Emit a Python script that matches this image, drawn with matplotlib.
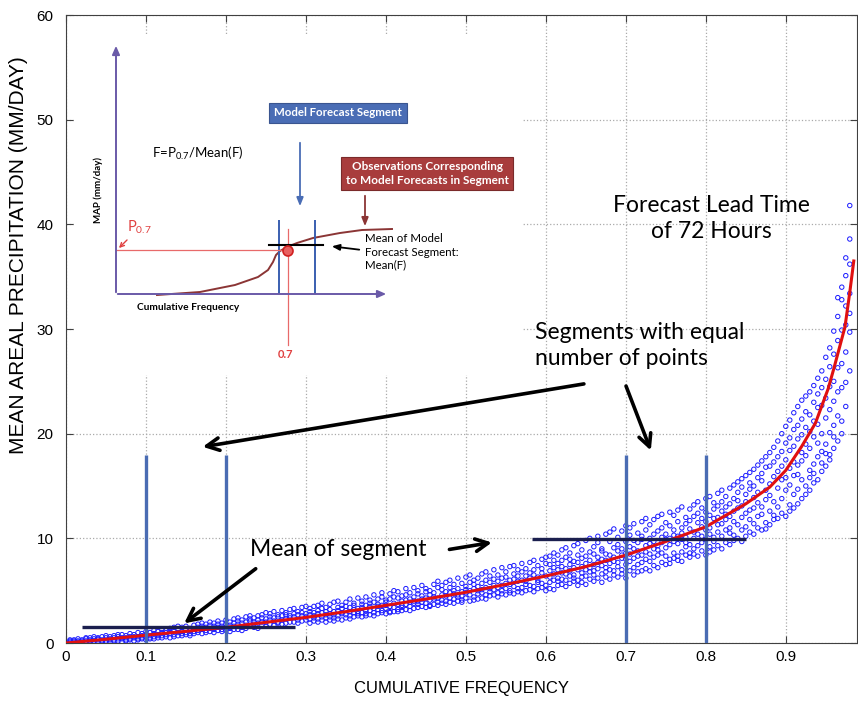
import matplotlib
matplotlib.use('Agg')
import matplotlib.pyplot as plt
from matplotlib import font_manager
from matplotlib.patches import Circle

installed = {f.name for f in font_manager.fontManager.ttflist}
tick_font = 'Liberation Sans Narrow' if 'Liberation Sans Narrow' in installed else 'Liberation Sans'
note_font = 'Lato'

plt.rcParams['font.family'] = ['Liberation Sans', 'DejaVu Sans']
plt.rcParams['mathtext.fontset'] = 'custom'
plt.rcParams['mathtext.rm'] = 'Lato'
plt.rcParams['mathtext.it'] = 'Lato:italic'
plt.rcParams['mathtext.bf'] = 'Lato:bold'

# ---- data ----
x_ticks = [0, 0.1, 0.2, 0.3, 0.4, 0.5, 0.6, 0.7, 0.8, 0.9]
x_ticklabels = ['0', '0.1', '0.2', '0.3', '0.4', '0.5', '0.6', '0.7', '0.8', '0.9']
y_ticks = [0, 10, 20, 30, 40, 50, 60]

# observed MAP (mm/day) against cumulative frequency of the forecast
obs_low = [
    (0.005, [0.0, 0.2, 0.1, 0.3]), (0.010, [0.1, 0.0, 0.3, 0.2]), (0.015, [0.2, 0.4, 0.0, 0.1]),
    (0.020, [0.3, 0.1, 0.2, 0.0]), (0.025, [0.0, 0.4, 0.2, 0.5]), (0.030, [0.3, 0.1, 0.5, 0.2]),
    (0.035, [0.4, 0.0, 0.2, 0.6]), (0.040, [0.1, 0.5, 0.3, 0.4]), (0.045, [0.6, 0.2, 0.3, 0.1]),
    (0.050, [0.2, 0.5, 0.0, 0.7]), (0.055, [0.4, 0.1, 0.6, 0.3]), (0.060, [0.7, 0.3, 0.2, 0.5]),
    (0.065, [0.2, 0.6, 0.4, 0.8]), (0.070, [0.5, 0.1, 0.8, 0.4]), (0.075, [0.3, 0.7, 0.5, 0.2]),
    (0.080, [0.9, 0.4, 0.6, 0.3]), (0.085, [0.5, 0.2, 0.8, 0.6]), (0.090, [0.4, 1.0, 0.6, 0.3]),
    (0.095, [0.7, 0.4, 0.9, 0.5]), (0.100, [0.3, 0.8, 1.1, 0.6]), (0.105, [1.0, 0.5, 0.7, 0.4]),
    (0.110, [0.6, 1.2, 0.4, 0.9]), (0.115, [0.8, 0.5, 1.1, 0.7]), (0.120, [1.3, 0.7, 0.5, 1.0]),
    (0.125, [0.6, 1.0, 1.2, 0.8]), (0.130, [0.9, 0.5, 1.4, 1.1]), (0.135, [1.2, 0.8, 0.6, 1.5]),
    (0.140, [0.7, 1.3, 1.0, 1.6]), (0.145, [1.1, 0.7, 1.5, 0.9]), (0.150, [1.6, 1.0, 0.8, 1.3]),
    (0.155, [0.9, 1.4, 1.2, 0.7]), (0.160, [1.3, 1.7, 0.9, 1.1]), (0.165, [1.0, 1.5, 1.8, 1.2]),
    (0.170, [1.6, 0.9, 1.3, 1.9]), (0.175, [1.2, 1.8, 1.0, 1.5]), (0.180, [1.7, 1.1, 1.4, 2.0]),
    (0.185, [1.0, 1.6, 1.9, 1.3]), (0.190, [1.5, 2.1, 1.2, 1.8]), (0.195, [1.9, 1.3, 1.6, 1.1]),
    (0.200, [1.2, 1.8, 2.2, 1.5]), (0.205, [2.0, 1.4, 1.1, 1.7]), (0.210, [1.6, 2.3, 1.3, 1.9]),
    (0.215, [1.3, 1.8, 2.1, 2.4]), (0.220, [2.2, 1.5, 1.9, 1.2]), (0.225, [1.7, 2.5, 1.4, 2.0]),
    (0.230, [2.3, 1.6, 2.1, 2.6]), (0.235, [1.5, 2.0, 2.4, 1.8]), (0.240, [2.6, 1.9, 1.4, 2.2]),
    (0.245, [2.0, 2.7, 1.7, 2.4]), (0.250, [1.6, 2.3, 2.9, 2.0]), (0.255, [2.5, 1.8, 2.2, 2.8]),
    (0.260, [2.1, 3.0, 1.7, 2.4]), (0.265, [2.7, 2.0, 2.5, 1.9]), (0.270, [1.8, 2.6, 3.1, 2.2]),
    (0.275, [2.9, 2.3, 1.9, 2.7]), (0.280, [2.4, 3.2, 2.0, 2.6]), (0.285, [2.0, 2.8, 3.3, 2.5]),
    (0.290, [3.0, 2.2, 2.7, 1.9]), (0.295, [2.6, 3.4, 2.1, 2.9]), (0.300, [2.2, 2.8, 3.5, 2.5]),
]
obs_mid = [
    (0.305, [1.9, 2.7, 3.3, 2.3, 3.0]), (0.310, [2.9, 2.1, 3.5, 2.6, 2.4]),
    (0.315, [2.3, 3.1, 2.0, 3.6, 2.8]), (0.320, [3.3, 2.5, 2.9, 2.2, 3.8]),
    (0.325, [2.7, 2.0, 3.4, 3.0, 2.4]), (0.330, [2.2, 3.7, 2.8, 2.5, 3.2]),
    (0.335, [3.0, 2.4, 3.9, 2.7, 2.1]), (0.340, [2.6, 3.4, 2.3, 3.1, 4.0]),
    (0.345, [3.6, 2.8, 2.2, 3.3, 2.9]), (0.350, [2.4, 3.1, 3.9, 2.7, 3.5]),
    (0.355, [3.4, 2.6, 3.0, 4.2, 2.3]), (0.360, [2.9, 3.8, 2.5, 3.2, 3.6]),
    (0.365, [2.6, 3.3, 4.3, 3.0, 2.8]), (0.370, [3.7, 2.5, 3.4, 2.9, 4.0]),
    (0.375, [3.1, 4.4, 2.8, 3.6, 2.6]), (0.380, [2.7, 3.5, 3.1, 4.1, 3.8]),
    (0.385, [3.9, 2.9, 4.6, 3.3, 2.6]), (0.390, [3.2, 4.2, 2.8, 3.7, 3.5]),
    (0.395, [2.9, 3.6, 4.4, 3.1, 4.8]), (0.400, [4.1, 3.3, 2.8, 3.9, 3.6]),
    (0.405, [3.5, 4.7, 3.0, 4.2, 2.9]), (0.410, [3.0, 3.8, 4.4, 3.4, 5.0]),
    (0.415, [4.3, 3.2, 3.7, 4.9, 3.0]), (0.420, [3.6, 4.5, 3.1, 4.0, 3.4]),
    (0.425, [3.2, 4.1, 5.2, 3.7, 4.6]), (0.430, [4.8, 3.5, 4.2, 3.1, 3.9]),
    (0.435, [3.8, 4.4, 3.3, 5.3, 4.0]), (0.440, [3.4, 4.7, 4.0, 3.7, 5.0]),
    (0.445, [4.2, 3.5, 5.5, 4.5, 3.9]), (0.450, [4.9, 3.8, 4.3, 3.4, 5.2]),
    (0.455, [3.6, 4.6, 5.0, 4.1, 3.5]), (0.460, [4.4, 5.6, 3.7, 4.8, 4.2]),
    (0.465, [3.9, 4.3, 5.3, 3.6, 5.9]), (0.470, [5.1, 3.8, 4.6, 4.1, 5.5]),
    (0.475, [4.5, 5.8, 4.0, 4.9, 3.7]), (0.480, [3.9, 4.8, 5.3, 4.3, 6.0]),
    (0.485, [5.6, 4.2, 4.7, 3.8, 5.0]), (0.490, [4.6, 5.2, 4.0, 6.2, 4.4]),
    (0.495, [4.1, 4.9, 5.7, 4.5, 3.9]), (0.500, [5.4, 4.3, 6.3, 4.8, 5.1]),
    (0.505, [4.0, 5.0, 4.6, 5.8, 6.5]), (0.510, [5.6, 4.4, 5.2, 4.1, 6.0]),
    (0.515, [4.7, 6.2, 4.2, 5.4, 5.0]), (0.520, [4.3, 5.1, 6.6, 4.8, 5.7]),
    (0.525, [6.0, 4.6, 5.3, 4.2, 6.8]), (0.530, [5.2, 6.4, 4.5, 5.8, 4.9]),
    (0.535, [4.6, 5.5, 7.0, 5.1, 6.1]), (0.540, [6.5, 4.8, 5.9, 4.4, 5.3]),
    (0.545, [5.0, 6.2, 5.5, 7.2, 4.7]), (0.550, [4.6, 5.7, 6.8, 5.2, 6.3]),
    (0.555, [6.0, 5.0, 7.3, 4.8, 5.6]), (0.560, [5.4, 6.6, 4.7, 6.1, 7.4]),
    (0.565, [4.9, 5.9, 6.4, 5.2, 7.0]), (0.570, [6.8, 5.3, 6.0, 4.8, 7.6]),
    (0.575, [5.6, 7.1, 5.0, 6.4, 5.9]), (0.580, [5.1, 6.2, 7.7, 5.5, 6.7]),
    (0.585, [7.0, 5.4, 6.5, 4.9, 7.9]), (0.590, [5.8, 7.4, 5.2, 6.3, 6.0]),
    (0.595, [5.3, 6.7, 8.0, 5.7, 7.1]), (0.600, [7.6, 5.5, 6.4, 5.0, 8.2]),
]
obs_high = [
    (0.605, [5.2, 6.3, 7.5, 5.8, 8.3, 6.9]), (0.610, [6.6, 5.1, 7.9, 6.0, 7.2, 8.6]),
    (0.615, [5.5, 7.0, 6.2, 8.4, 5.9, 7.6]), (0.620, [7.3, 5.6, 6.7, 8.9, 6.1, 7.9]),
    (0.625, [6.0, 8.2, 5.4, 7.1, 6.6, 9.1]), (0.630, [8.6, 6.4, 7.5, 5.7, 8.0, 6.9]),
    (0.635, [5.9, 7.2, 9.3, 6.5, 7.8, 6.2]), (0.640, [7.7, 6.0, 8.4, 5.5, 9.5, 7.0]),
    (0.645, [6.3, 8.9, 7.3, 6.7, 5.8, 8.1]), (0.650, [8.3, 5.6, 7.0, 9.8, 6.4, 7.6]),
    (0.655, [6.8, 7.9, 6.1, 8.7, 10.0, 7.2]), (0.660, [5.9, 8.5, 7.5, 6.5, 9.2, 6.9]),
    (0.665, [9.6, 7.1, 6.2, 8.2, 7.7, 10.2]), (0.670, [6.6, 8.8, 7.4, 5.8, 9.0, 8.0]),
    (0.675, [7.9, 6.3, 10.4, 7.2, 8.5, 6.8]), (0.680, [8.4, 9.7, 6.1, 7.6, 10.6, 7.0]),
    (0.685, [6.5, 7.8, 9.1, 8.2, 6.9, 10.9]), (0.690, [9.4, 7.3, 6.3, 8.8, 10.1, 7.7]),
    (0.695, [7.0, 10.7, 8.4, 6.6, 9.0, 8.1]), (0.700, [8.6, 6.2, 9.7, 7.5, 11.2, 8.0]),
    (0.705, [10.3, 7.8, 6.9, 9.2, 8.5, 11.0]), (0.710, [7.2, 9.0, 11.4, 8.1, 6.5, 9.8]),
    (0.715, [8.8, 10.5, 7.5, 6.8, 9.6, 8.3]), (0.720, [6.9, 8.4, 9.9, 11.6, 7.7, 10.2]),
    (0.725, [9.3, 7.1, 8.7, 10.8, 11.9, 8.0]), (0.730, [10.0, 8.5, 6.9, 9.5, 7.8, 11.3]),
    (0.735, [7.4, 11.8, 9.0, 8.2, 10.4, 9.7]), (0.740, [8.9, 7.2, 10.7, 12.1, 8.4, 9.3]),
    (0.745, [11.0, 9.6, 7.7, 8.6, 12.3, 10.1]), (0.750, [7.5, 10.4, 9.1, 11.5, 8.3, 9.9]),
    (0.755, [9.4, 12.5, 8.0, 10.0, 7.6, 11.2]), (0.760, [10.8, 8.6, 9.7, 12.2, 8.1, 10.3]),
    (0.765, [8.3, 11.6, 10.2, 7.9, 12.7, 9.5]), (0.770, [9.9, 7.8, 11.0, 10.5, 8.7, 13.0]),
    (0.775, [12.0, 9.2, 8.4, 11.4, 10.1, 9.6]), (0.780, [8.6, 10.9, 12.8, 9.4, 11.7, 8.2]),
    (0.785, [10.6, 13.2, 9.0, 8.5, 12.1, 10.0]), (0.790, [9.3, 11.5, 10.4, 13.5, 8.3, 12.4]),
    (0.795, [11.9, 8.8, 12.9, 10.2, 9.6, 11.1]), (0.800, [8.4, 10.8, 13.8, 11.6, 9.9, 12.5]),
    (0.805, [12.2, 9.2, 11.0, 14.0, 10.4, 8.7]), (0.810, [10.1, 13.4, 8.9, 11.9, 12.8, 9.7]),
    (0.815, [13.1, 10.6, 12.0, 9.3, 14.3, 11.3]), (0.820, [9.0, 12.6, 11.4, 14.6, 10.2, 13.5]),
    (0.825, [11.8, 9.6, 14.0, 12.3, 10.8, 13.0]), (0.830, [14.8, 11.0, 9.4, 13.3, 12.1, 10.5]),
    (0.835, [10.3, 13.8, 12.6, 9.8, 15.1, 11.6]), (0.840, [12.9, 10.0, 14.4, 11.3, 13.6, 15.4]),
    (0.845, [9.7, 14.9, 12.0, 13.1, 10.8, 15.7]), (0.850, [13.5, 11.1, 16.0, 10.2, 14.2, 12.4]),
    (0.855, [15.3, 12.7, 10.6, 14.7, 11.8, 16.3]), (0.860, [11.4, 16.6, 13.9, 10.4, 15.0, 12.9]),
    (0.865, [14.4, 12.1, 17.0, 11.0, 15.8, 13.4]), (0.870, [10.8, 15.5, 13.0, 17.4, 12.3, 16.2]),
    (0.875, [16.8, 11.5, 14.6, 17.8, 13.7, 10.9]), (0.880, [12.6, 18.2, 15.2, 11.3, 16.9, 14.1]),
    (0.885, [15.9, 11.8, 18.7, 13.5, 17.3, 12.2]), (0.890, [13.0, 16.4, 19.3, 11.9, 14.8, 17.8]),
    (0.895, [18.3, 12.4, 15.6, 20.0, 13.8, 16.9]), (0.900, [12.1, 17.5, 20.7, 14.6, 19.1, 15.8]),
]
obs_tail = [
    (0.905, [13.2, 18.4, 15.1, 21.3, 16.7, 12.6, 19.6]),
    (0.910, [16.0, 12.9, 20.4, 17.3, 14.2, 22.0, 18.8]),
    (0.915, [19.5, 14.7, 17.0, 13.3, 22.6, 16.1, 20.8]),
    (0.920, [13.8, 21.4, 18.2, 15.6, 23.2, 17.4, 19.9]),
    (0.925, [17.9, 15.0, 23.6, 20.6, 14.2, 19.0, 22.1]),
    (0.930, [21.8, 16.5, 14.6, 24.0, 18.6, 20.2, 15.8]),
    (0.935, [15.3, 19.7, 23.0, 17.1, 24.6, 21.2, 16.2]),
    (0.940, [22.5, 17.8, 15.6, 20.9, 25.3, 19.1, 23.8]),
    (0.945, [16.4, 24.4, 20.0, 18.3, 26.0, 22.7, 17.2]),
    (0.950, [25.2, 19.0, 16.9, 23.4, 27.3, 21.5, 18.1]),
    (0.955, [18.0, 22.3, 26.4, 20.1, 28.2, 24.5, 17.5]),
    (0.960, [27.6, 20.8, 18.6, 25.0, 29.8, 23.1, 19.7]),
    (0.965, [19.3, 24.0, 28.9, 21.7, 31.2, 26.3, 33.0]),
    (0.970, [29.9, 21.2, 20.0, 26.7, 32.8, 24.4, 34.0]),
    (0.975, [22.6, 30.4, 27.8, 35.1, 24.9, 32.2, 36.8]),
    (0.980, [33.4, 26.0, 38.6, 29.7, 36.2, 41.8, 31.5]),
]

# fitted (mean) curve
fit_freq = [0, 0.05, 0.1, 0.15, 0.2, 0.25, 0.3, 0.35, 0.4, 0.45, 0.5, 0.55, 0.6, 0.65,
            0.7, 0.75, 0.8, 0.85, 0.88, 0.9, 0.92, 0.937, 0.953, 0.96, 0.967, 0.974, 0.98, 0.985]
fit_map = [0, 0.36, 0.75, 1.12, 1.5, 1.98, 2.45, 3.0, 3.6, 4.2, 4.85, 5.6, 6.4, 7.3,
           8.4, 9.7, 11.1, 13.3, 14.9, 16.5, 18.8, 21.0, 24.3, 26.2, 28.2, 30.2, 33.5, 36.5]

# segment boundaries and segment means
segment_edges = [0.1, 0.2, 0.7, 0.8]
segment_top = 18
segment_means = [(0.02, 0.286, 1.5), (0.5825, 0.85, 9.9)]

# ---- figure ----
fig = plt.figure(figsize=(8.58, 7.06), dpi=100)
ax = fig.add_axes([0.0769, 0.0892, 0.9219, 0.8895])
ax.set_xlim(0, 0.989)
ax.set_ylim(0, 60)

ax.grid(True, linestyle=':', color='#aaaaaa', linewidth=0.9)
ax.set_axisbelow(True)
ax.set_xticks(x_ticks)
ax.set_xticklabels(x_ticklabels, fontfamily=tick_font, fontsize=11)
ax.set_yticks(y_ticks)
ax.set_yticklabels([str(v) for v in y_ticks], fontfamily=tick_font, fontsize=11)
ax.tick_params(direction='in', length=5, top=True, right=True, color='#404040')
ax.tick_params(axis='x', pad=5)
ax.tick_params(axis='y', pad=9)
for s in ax.spines.values():
    s.set_color('#404040')
    s.set_linewidth(0.8)

ax.set_xlabel('CUMULATIVE FREQUENCY', fontsize=12, labelpad=12)
ax.set_ylabel('MEAN AREAL PRECIPITATION (MM/DAY)', fontsize=15)
ax.yaxis.set_label_coords(-0.048, 0.618)

xs, ys = [], []
for group in (obs_low, obs_mid, obs_high, obs_tail):
    for f, vals in group:
        xs += [f] * len(vals)
        ys += vals
ax.scatter(xs, ys, s=10, facecolors='none', edgecolors='#1a1aff', linewidths=0.7, zorder=3)
ax.plot(fit_freq, fit_map, color='#e01010', linewidth=2.2, zorder=4)

ax.vlines(segment_edges, 0, segment_top, color='#4a6cb3', linewidth=2.4, zorder=5)
for x0, x1, m in segment_means:
    ax.hlines(m, x0, x1, color='#1b1f4e', linewidth=2.4, zorder=5)

arrow = dict(arrowstyle='->,head_length=0.9,head_width=0.45', lw=2.6, color='black')
ax.annotate('', xy=(0.1675, 18.7), xytext=(0.651, 24.8), arrowprops=arrow, zorder=6)
ax.annotate('', xy=(0.7325, 18.15), xytext=(0.699, 24.8), arrowprops=arrow, zorder=6)
ax.annotate('', xy=(0.536, 9.65), xytext=(0.476, 8.9), arrowprops=arrow, zorder=6)
ax.annotate('', xy=(0.145, 1.72), xytext=(0.24, 7.26), arrowprops=arrow, zorder=6)

ax.text(0.8075, 40.6, 'Forecast Lead Time\nof 72 Hours', ha='center', va='center',
        fontfamily=note_font, fontsize=16.5, linespacing=1.3)
ax.text(0.586, 28.4, 'Segments with equal\nnumber of points', ha='left', va='center',
        fontfamily=note_font, fontsize=16.5, linespacing=1.3)
ax.text(0.23, 8.9, 'Mean of segment', ha='left', va='center',
        fontfamily=note_font, fontsize=16.5)

# ---- schematic inset (diagram units, y down) ----
ax_in = fig.add_axes([74 / 858, 1 - 375 / 706, 449 / 858, 340 / 706])
ax_in.set_xlim(74, 523)
ax_in.set_ylim(375, 35)
ax_in.set_xticks([])
ax_in.set_yticks([])
for s in ax_in.spines.values():
    s.set_visible(False)

purple = '#6a5aa8'
brown = '#8b3535'
blue = '#4a6db5'
pink = '#e86a6a'
axis_arrow = dict(arrowstyle='-|>,head_length=0.5,head_width=0.22', lw=1.4, color=purple)
ax_in.annotate('', xy=(116, 43), xytext=(116, 295), arrowprops=axis_arrow)
ax_in.annotate('', xy=(389, 294), xytext=(115, 294), arrowprops=axis_arrow)

curve_x = [157, 200, 235, 258, 268, 273, 276, 280, 287, 297, 313, 340, 362, 392]
curve_y = [295, 292, 285, 277, 270, 262, 255, 251, 247, 243, 238, 233, 230, 229]
ax_in.plot(curve_x, curve_y, color=brown, lw=1.4)

ax_in.vlines([279, 315], 220, 294, color='#3a5fb0', lw=1.4)
ax_in.plot([288, 288], [229, 345], color=pink, lw=0.9)
ax_in.plot([116, 288], [250, 250], color=pink, lw=0.9)
ax_in.plot([269, 323], [245, 245], color='black', lw=1.5)
ax_in.add_patch(Circle((288, 251), 5, facecolor='#e86060', edgecolor='#d02020', lw=1.2, zorder=5))

ax_in.text(98, 190, 'MAP (mm/day)', rotation=90, ha='center', va='center',
           fontfamily=note_font, fontweight='bold', fontsize=7)
ax_in.text(188, 308, 'Cumulative Frequency', ha='center', va='center',
           fontfamily=note_font, fontweight='bold', fontsize=7.3)
ax_in.text(152, 153, r'F=P$_{0.7}$/Mean(F)', ha='left', va='center',
           fontfamily=note_font, fontsize=9.5)
ax_in.text(127, 227, r'P$_{0.7}$', ha='left', va='center', color='#e04040',
           fontfamily=note_font, fontsize=10.5)
ax_in.annotate('', xy=(117, 250), xytext=(129, 238),
               arrowprops=dict(arrowstyle='->,head_length=0.3,head_width=0.15', lw=1.0, color='#e04040'))
ax_in.text(286, 355, '0.7', ha='center', va='center', color='#e04040',
           fontfamily=note_font, fontweight='bold', fontsize=8)

ax_in.text(338, 113, 'Model Forecast Segment', ha='center', va='center', color='white',
           fontfamily=note_font, fontweight='bold', fontsize=8.3,
           bbox=dict(boxstyle='square,pad=0.4', facecolor=blue, edgecolor='#3a5590', lw=0.8))
ax_in.annotate('', xy=(300, 209), xytext=(300, 140),
               arrowprops=dict(arrowstyle='-|>,head_length=0.5,head_width=0.2', lw=1.3, color=blue))

ax_in.text(427, 173.5, 'Observations Corresponding\nto Model Forecasts in Segment',
           ha='center', va='center', color='white', fontfamily=note_font,
           fontweight='bold', fontsize=8.5, linespacing=1.25,
           bbox=dict(boxstyle='square,pad=0.35', facecolor='#a83c3c', edgecolor='#7a2a2a', lw=0.8))
ax_in.annotate('', xy=(365, 229), xytext=(365, 193),
               arrowprops=dict(arrowstyle='-|>,head_length=0.5,head_width=0.2', lw=1.3, color=brown))

ax_in.annotate('', xy=(329, 246), xytext=(362, 250),
               arrowprops=dict(arrowstyle='-|>,head_length=0.45,head_width=0.18', lw=1.3, color='black'))
ax_in.text(365, 252, 'Mean of Model\nForecast Segment:\nMean(F)', ha='left', va='center',
           fontfamily=note_font, fontsize=8.3, linespacing=1.25)

fig.savefig('out.png', dpi=100)
